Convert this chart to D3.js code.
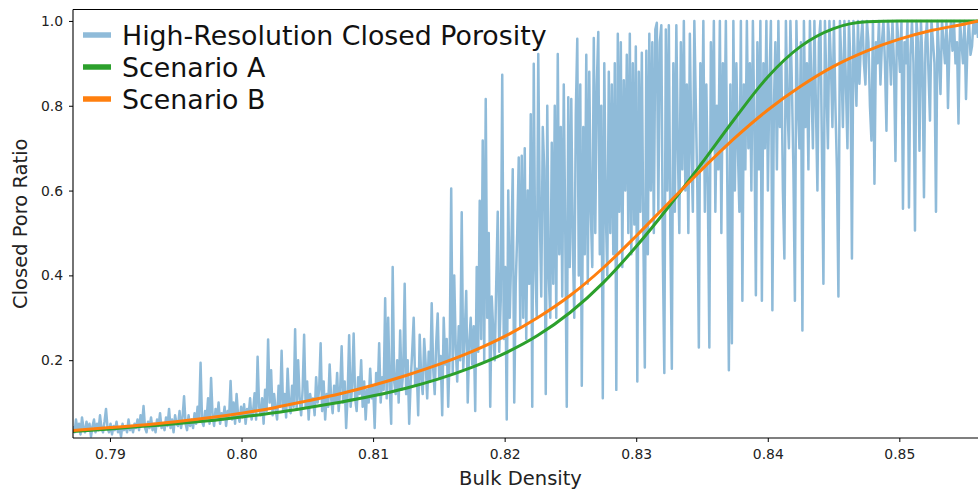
<!DOCTYPE html>
<html>
<head>
<meta charset="utf-8">
<script src="https://cdn.jsdelivr.net/npm/d3@7.9.0/dist/d3.min.js"></script>
<style>
  body { margin: 0; background: #fff; }
  svg { display: block; font-family: "DejaVu Sans", sans-serif; }
</style>
</head>
<body>
<svg id="chart" width="978" height="490"></svg>
<script>
// high-resolution closed porosity, evenly sampled across the density range
const densityRange = [0.78719, 0.85598];
const hiResPorosity = [
  0.045,0.03,0.06,0.035,0.05,0.025,0.065,0.04,0.03,0.055,0.035,0.05,0.02,0.045,0.06,0.03,0.05,0.035,0.07,0.04,
  0.03,0.055,0.085,0.04,0.03,0.05,0.025,0.045,0.035,0.055,0.03,0.04,0.02,0.05,0.035,0.045,0.03,0.06,0.035,0.045,
  0.03,0.05,0.04,0.06,0.035,0.07,0.045,0.092,0.04,0.03,0.055,0.04,0.065,0.035,0.05,0.03,0.06,0.045,0.075,0.04,
  0.05,0.035,0.065,0.045,0.085,0.04,0.06,0.03,0.07,0.05,0.045,0.08,0.04,0.065,0.115,0.05,0.035,0.07,0.045,0.06,
  0.04,0.075,0.05,0.09,0.06,0.194,0.055,0.045,0.08,0.06,0.11,0.05,0.158,0.07,0.045,0.085,0.06,0.1,0.05,0.075,
  0.06,0.09,0.045,0.08,0.065,0.151,0.06,0.1,0.05,0.12,0.07,0.055,0.09,0.065,0.096,0.05,0.085,0.07,0.11,0.06,
  0.08,0.122,0.06,0.208,0.09,0.07,0.11,0.05,0.13,0.08,0.249,0.1,0.176,0.07,0.12,0.085,0.06,0.14,0.09,0.222,
  0.08,0.12,0.065,0.18,0.1,0.075,0.14,0.09,0.273,0.085,0.2,0.11,0.07,0.13,0.26,0.09,0.15,0.06,0.12,0.095,
  0.11,0.07,0.16,0.1,0.13,0.24,0.08,0.15,0.06,0.12,0.09,0.19,0.11,0.075,0.14,0.1,0.17,0.08,0.13,0.233,
  0.1,0.15,0.04,0.12,0.259,0.09,0.14,0.263,0.11,0.08,0.16,0.12,0.2,0.09,0.15,0.06,0.13,0.1,0.18,0.11,
  0.14,0.04,0.17,0.12,0.24,0.1,0.16,0.13,0.346,0.11,0.3,0.14,0.05,0.42,0.15,0.12,0.2,0.1,0.27,0.13,
  0.17,0.38,0.12,0.2,0.05,0.15,0.22,0.3,0.14,0.18,0.07,0.26,0.16,0.12,0.25,0.19,0.11,0.22,0.15,0.334,
  0.18,0.12,0.24,0.31,0.16,0.21,0.07,0.3,0.19,0.25,0.09,0.22,0.605,0.17,0.4,0.23,0.15,0.28,0.2,0.549,
  0.18,0.26,0.363,0.1,0.24,0.3,0.19,0.28,0.08,0.42,0.22,0.576,0.25,0.718,0.2,0.816,0.3,0.5,0.09,0.35,
  0.27,0.2,0.38,0.55,0.22,0.34,0.873,0.25,0.42,0.06,0.6,0.3,0.45,0.65,0.1,0.38,0.5,0.678,0.28,0.682,
  0.3,0.7,0.25,0.6,0.38,0.78,0.09,0.899,0.42,0.3,0.922,0.55,0.35,0.75,0.65,0.12,0.8,0.4,0.3,0.713,
  0.38,0.8,0.3,0.922,0.45,0.75,0.35,0.85,0.5,0.09,0.82,0.42,0.816,0.48,0.3,0.78,0.958,0.4,0.85,0.14,
  0.75,0.45,0.92,0.38,0.88,0.55,0.42,0.96,0.5,0.85,0.974,0.45,0.8,0.11,0.9,0.55,0.4,0.88,0.5,0.85,
  0.45,0.9,0.13,0.97,0.55,0.95,0.42,0.86,0.6,0.92,0.5,0.97,0.45,0.9,0.52,0.94,0.15,0.88,0.55,0.925,
  0.5,0.183,0.93,0.45,0.97,0.6,0.95,0.5,0.98,0.996,0.55,0.95,0.99,0.45,0.17,0.98,0.6,0.99,0.5,0.18,
  0.9,0.55,0.99,0.7,0.5,0.95,0.65,1.0,0.6,0.85,0.5,0.97,0.7,0.55,1.0,0.8,0.6,0.23,0.9,0.65,
  1.0,0.55,0.85,0.6,0.23,0.95,0.7,1.0,0.55,0.8,0.65,1.0,0.5,0.9,0.7,1.0,0.6,0.176,0.85,0.24,
  1.0,0.6,0.9,0.7,0.55,1.0,0.34,0.85,0.65,1.0,0.7,0.9,0.6,1.0,0.75,0.353,0.95,0.65,1.0,0.34,
  0.9,0.7,1.0,0.6,0.85,1.0,0.318,0.8,0.95,0.65,1.0,0.75,0.9,0.6,0.44,1.0,0.8,0.7,1.0,0.85,
  0.65,0.34,1.0,0.8,0.7,0.95,0.27,1.0,0.75,0.9,0.65,1.0,0.85,0.7,1.0,0.8,0.6,0.95,1.0,0.7,
  0.38,1.0,0.85,0.7,1.0,0.9,0.75,1.0,0.8,0.65,0.35,1.0,0.9,0.75,1.0,0.85,0.7,1.0,0.9,0.44,
  1.0,0.9,0.8,1.0,0.852,0.95,1.0,0.9,0.85,1.0,0.95,0.8,0.718,1.0,0.616,0.95,0.9,1.0,0.85,0.95,
  1.0,0.9,0.741,1.0,0.95,0.85,1.0,0.9,0.67,1.0,0.95,0.88,1.0,0.557,0.95,0.9,1.0,0.56,0.92,1.0,
  0.9,0.506,1.0,0.95,0.694,1.0,0.9,0.584,0.95,1.0,0.88,0.765,1.0,0.95,0.9,0.55,1.0,0.92,0.828,1.0,
  0.95,0.9,1.0,0.795,0.95,1.0,0.93,1.0,0.9,0.95,0.758,1.0,0.95,0.9,1.0,0.816,0.95,1.0,0.92,0.94,
  1.0,0.97,1.0,0.96
];

// model curves, read every 0.0025 in density
const scenarioADensity = [0.78719,0.7900,0.7925,0.7950,0.7975,0.8000,0.8025,0.8050,0.8075,0.8100,0.8125,0.8150,0.8175,0.8200,
  0.8225,0.8250,0.8275,0.8300,0.8325,0.8350,0.8375,0.8400,0.8425,0.8450,0.8475,0.8500,0.85598];
const scenarioAValue = [0.032,0.038,0.044,0.050,0.057,0.066,0.076,0.088,0.101,0.116,0.134,0.156,0.183,0.216,
  0.258,0.313,0.383,0.468,0.563,0.665,0.770,0.868,0.940,0.982,0.998,1.0,1.0];
const scenarioBDensity = [0.78719,0.7900,0.7925,0.7950,0.7975,0.8000,0.8025,0.8050,0.8075,0.8100,0.8125,0.8150,0.8175,0.8200,
  0.8225,0.8250,0.8275,0.8300,0.8325,0.8350,0.8375,0.8400,0.8425,0.8450,0.8475,0.8500,0.8525,0.8550,0.85598];
const scenarioBValue = [0.034,0.041,0.047,0.055,0.064,0.075,0.088,0.104,0.121,0.141,0.164,0.190,0.220,0.256,
  0.300,0.353,0.418,0.493,0.572,0.650,0.724,0.790,0.846,0.893,0.929,0.957,0.978,0.993,1.0];

const xTicks = [0.79, 0.80, 0.81, 0.82, 0.83, 0.84, 0.85];
const yTicks = [0.2, 0.4, 0.6, 0.8, 1.0];
const legendLabels = ["High-Resolution Closed Porosity", "Scenario A", "Scenario B"];
const legendColors = ["#8fbbd9", "#2ca02c", "#ff7f0e"];

const plot = { left: 73, right: 978, top: 9.5, bottom: 438 };

const svg = d3.select("#chart");

const x = d3.scaleLinear().domain(densityRange).range([plot.left, plot.right]);
const y = d3.scaleLinear().domain([0.0165, 1.027]).range([plot.bottom, plot.top]);

svg.append("clipPath").attr("id", "clip")
  .append("rect")
  .attr("x", plot.left).attr("y", plot.top)
  .attr("width", plot.right - plot.left).attr("height", plot.bottom - plot.top);

const idx = d3.scaleLinear().domain([0, hiResPorosity.length - 1]).range(densityRange);
const hiRes = hiResPorosity.map((v, i) => [idx(i), v]);

const lines = svg.append("g").attr("clip-path", "url(#clip)");

lines.append("path")
  .datum(hiRes)
  .attr("fill", "none")
  .attr("stroke", "#1f77b4")
  .attr("stroke-opacity", 0.5)
  .attr("stroke-width", 2.5)
  .attr("stroke-linejoin", "round")
  .attr("d", d3.line().x(d => x(d[0])).y(d => y(d[1])));

const smooth = d3.line().x(d => x(d[0])).y(d => y(d[1])).curve(d3.curveMonotoneX);

lines.append("path")
  .datum(scenarioADensity.map((d, i) => [d, scenarioAValue[i]]))
  .attr("fill", "none")
  .attr("stroke", "#2ca02c")
  .attr("stroke-width", 3)
  .attr("d", smooth);

lines.append("path")
  .datum(scenarioBDensity.map((d, i) => [d, scenarioBValue[i]]))
  .attr("fill", "none")
  .attr("stroke", "#ff7f0e")
  .attr("stroke-width", 3)
  .attr("d", smooth);

// axes
const xAxis = svg.append("g")
  .attr("transform", `translate(0,${plot.bottom})`)
  .call(d3.axisBottom(x).tickValues(xTicks).tickFormat(d3.format(".2f")).tickSize(4).tickPadding(7));
const yAxis = svg.append("g")
  .attr("transform", `translate(${plot.left},0)`)
  .call(d3.axisLeft(y).tickValues(yTicks).tickFormat(d3.format(".1f")).tickSize(4).tickPadding(6));

[xAxis, yAxis].forEach(g => {
  g.select(".domain").remove();
  g.selectAll("line").attr("stroke", "#000").attr("stroke-width", 1);
  g.selectAll("text").attr("font-size", 13.9).attr("fill", "#222")
    .attr("font-family", "DejaVu Sans");
});

// spines
svg.append("line").attr("x1", plot.left).attr("x2", plot.left)
  .attr("y1", plot.top).attr("y2", plot.bottom).attr("stroke", "#000").attr("stroke-width", 1.1);
svg.append("line").attr("x1", plot.left).attr("x2", plot.right)
  .attr("y1", plot.bottom).attr("y2", plot.bottom).attr("stroke", "#000").attr("stroke-width", 1.1);
svg.append("line").attr("x1", plot.left).attr("x2", plot.right)
  .attr("y1", plot.top).attr("y2", plot.top).attr("stroke", "#000").attr("stroke-width", 1.1);

// axis titles
svg.append("text")
  .attr("x", (plot.left + plot.right) / 2 - 5).attr("y", 485)
  .attr("text-anchor", "middle").attr("font-size", 19.5).attr("fill", "#222")
  .text("Bulk Density");
svg.append("text")
  .attr("transform", `translate(27,${(plot.top + plot.bottom) / 2}) rotate(-90)`)
  .attr("text-anchor", "middle").attr("font-size", 19.5).attr("fill", "#222")
  .text("Closed Poro Ratio");

// legend
const legend = svg.append("g");
legendLabels.forEach((label, i) => {
  const base = 45 + i * 32;
  legend.append("line")
    .attr("x1", 83).attr("x2", 111)
    .attr("y1", base - 10).attr("y2", base - 10)
    .attr("stroke", legendColors[i]).attr("stroke-width", 5.5);
  legend.append("text")
    .attr("x", 122).attr("y", base)
    .attr("font-size", 26.8).attr("fill", "#111")
    .text(label);
});
</script>
</body>
</html>
